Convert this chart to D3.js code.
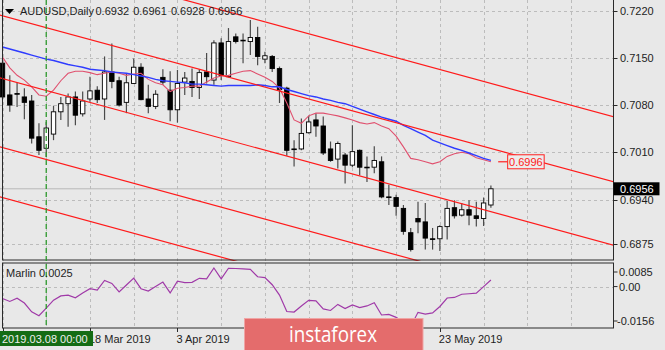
<!DOCTYPE html>
<html><head><meta charset="utf-8">
<script src="https://cdn.jsdelivr.net/npm/d3@7"></script>
<style>html,body{margin:0;padding:0;background:#e8e8e8;}svg{display:block}</style>
</head><body><svg id="c" width="665" height="350"></svg>
<script>
const dates = ["2019.02.28","2019.03.01","2019.03.04","2019.03.05","2019.03.06","2019.03.07","2019.03.08",
"2019.03.11","2019.03.12","2019.03.13","2019.03.14","2019.03.15","2019.03.18","2019.03.19","2019.03.20","2019.03.21","2019.03.22",
"2019.03.25","2019.03.26","2019.03.27","2019.03.28","2019.03.29","2019.04.01","2019.04.02","2019.04.03","2019.04.04","2019.04.05",
"2019.04.08","2019.04.09","2019.04.10","2019.04.11","2019.04.12","2019.04.15","2019.04.16","2019.04.17","2019.04.18","2019.04.19",
"2019.04.22","2019.04.23","2019.04.24","2019.04.25","2019.04.26","2019.04.29","2019.04.30","2019.05.01","2019.05.02","2019.05.03",
"2019.05.06","2019.05.07","2019.05.08","2019.05.09","2019.05.10","2019.05.13","2019.05.14","2019.05.15","2019.05.16","2019.05.17",
"2019.05.20","2019.05.21","2019.05.22","2019.05.23","2019.05.24","2019.05.27","2019.05.28","2019.05.29","2019.05.30","2019.05.31","2019.06.03"];
const open  = [0.7142,0.7095,0.7097,0.7092,0.7086,0.7033,0.7016,0.7037,0.7070,0.7082,0.7092,0.7067,0.7089,0.7102,0.7089,0.7129,0.7116,0.7084,0.7112,0.7136,0.7089,0.7078,0.7121,0.7102,0.7073,0.7114,0.7115,0.7106,0.7129,0.7117,0.7172,0.7122,0.7181,0.7175,0.7174,0.7180,0.7148,0.7152,0.7134,0.7105,0.7015,0.7015,0.7039,0.7058,0.7049,0.7015,0.7000,0.7006,0.6991,0.7013,0.6988,0.6988,0.6996,0.6944,0.6943,0.6927,0.6891,0.6912,0.6907,0.6882,0.6882,0.6900,0.6928,0.6917,0.6925,0.6916,0.6912,0.6932];
const high  = [0.7150,0.7124,0.7113,0.7105,0.7095,0.7053,0.7055,0.7079,0.7092,0.7097,0.7100,0.7100,0.7122,0.7108,0.7152,0.7171,0.7122,0.7127,0.7149,0.7142,0.7110,0.7102,0.7133,0.7130,0.7132,0.7129,0.7134,0.7133,0.7157,0.7176,0.7179,0.7194,0.7186,0.7186,0.7206,0.7196,0.7159,0.7154,0.7137,0.7107,0.7028,0.7060,0.7064,0.7068,0.7063,0.7026,0.7026,0.7009,0.7050,0.7014,0.7004,0.7019,0.7004,0.6962,0.6947,0.6932,0.6898,0.6937,0.6935,0.6898,0.6902,0.6938,0.6939,0.6935,0.6939,0.6937,0.6943,0.6961];
const low   = [0.7088,0.7070,0.7077,0.7059,0.7023,0.7006,0.7003,0.7028,0.7058,0.7048,0.7050,0.7063,0.7085,0.7083,0.7058,0.7105,0.7078,0.7068,0.7111,0.7087,0.7068,0.7074,0.7110,0.7056,0.7054,0.7095,0.7092,0.7089,0.7112,0.7110,0.7117,0.7121,0.7171,0.7142,0.7154,0.7139,0.7142,0.7129,0.7083,0.7005,0.6989,0.7013,0.7038,0.7033,0.7006,0.6996,0.6986,0.6964,0.6988,0.6976,0.6966,0.6979,0.6942,0.6932,0.6916,0.6888,0.6863,0.6890,0.6866,0.6866,0.6864,0.6881,0.6912,0.6915,0.6902,0.6900,0.6901,0.6928];
const close = [0.7092,0.7080,0.7096,0.7084,0.7031,0.7013,0.7046,0.7070,0.7082,0.7092,0.7065,0.7086,0.7101,0.7088,0.7129,0.7115,0.7080,0.7113,0.7136,0.7088,0.7078,0.7096,0.7114,0.7073,0.7112,0.7120,0.7106,0.7128,0.7122,0.7172,0.7124,0.7174,0.7174,0.7176,0.7180,0.7152,0.7153,0.7134,0.7103,0.7013,0.7014,0.7038,0.7055,0.7049,0.7009,0.6998,0.7023,0.6991,0.7011,0.6988,0.6987,0.6998,0.6944,0.6943,0.6930,0.6893,0.6866,0.6907,0.6883,0.6881,0.6900,0.6927,0.6916,0.6925,0.6917,0.6912,0.6935,0.6956];
const maBlue = [0.7166,0.7163,0.7160,0.7157,0.7154,0.7151,0.7148,0.7146,0.7143,0.7140,0.7138,0.7136,0.7133,0.7132,0.7131,0.7129,0.7128,0.7127,0.7125,0.7123,0.7121,0.7118,0.7116,0.7115,0.7114,0.7113,0.7111,0.7111,0.7110,0.7109,0.7108,0.7109,0.7109,0.7109,0.7109,0.7110,0.7109,0.7107,0.7107,0.7103,0.7100,0.7097,0.7094,0.7092,0.7089,0.7087,0.7084,0.7082,0.7078,0.7074,0.7070,0.7066,0.7062,0.7059,0.7056,0.7050,0.7045,0.7040,0.7035,0.7028,0.7024,0.7020,0.7016,0.7013,0.7009,0.7005,0.7001,0.6998];
const maPink = [0.7151,0.7135,0.7124,0.7117,0.7107,0.7095,0.7093,0.7102,0.7116,0.7127,0.7130,0.7130,0.7128,0.7125,0.7127,0.7129,0.7127,0.7124,0.7126,0.7127,0.7118,0.7113,0.7110,0.7100,0.7105,0.7106,0.7108,0.7108,0.7114,0.7120,0.7123,0.7124,0.7127,0.7130,0.7131,0.7126,0.7121,0.7115,0.7105,0.7083,0.7058,0.7053,0.7064,0.7068,0.7068,0.7066,0.7064,0.7061,0.7058,0.7054,0.7052,0.7054,0.7049,0.7045,0.7034,0.7018,0.7001,0.6999,0.6996,0.6993,0.6996,0.7004,0.7008,0.7010,0.7008,0.7002,0.6999,0.6996];
const marlin = [-0.0045,-0.0056,-0.0044,-0.0062,-0.0095,-0.0110,-0.0081,-0.0051,-0.0035,-0.0032,-0.0042,-0.0024,-0.0008,-0.0013,0.0023,0.0012,-0.0020,0.0006,0.0032,-0.0008,-0.0017,0.0000,0.0017,-0.0024,0.0020,0.0015,0.0016,0.0031,0.0029,0.0070,0.0029,0.0069,0.0068,0.0067,0.0065,0.0037,0.0034,0.0007,-0.0032,-0.0094,-0.0096,-0.0073,-0.0052,-0.0054,-0.0084,-0.0090,-0.0067,-0.0083,-0.0069,-0.0079,-0.0073,-0.0061,-0.0107,-0.0105,-0.0116,-0.0133,-0.0150,-0.0097,-0.0104,-0.0099,-0.0075,-0.0043,-0.0041,-0.0029,-0.0027,-0.0025,-0.0000,0.0025];
const priceTicks = [0.7220,0.7150,0.7080,0.7010,0.6940,0.6875];
const marlinTicks = [0.0085,0.00,-0.0156];
const marlinTickLabels = ["0.0085","0.00","-0.0156"];
const dateTickIndex = [0,12,24,36,48,60];
const dateTickLabels = ["","18 Mar 2019","3 Apr 2019","","","23 May 2019"];
// channel trend lines: start (bar index, price) -> end (bar index, price)
const chFromIdx = -1, chToIdx = 84;
const chFromPrice = [0.7312,0.7215,0.7122,0.7020,0.6946];
const chToPrice   = [0.7062,0.6966,0.6872,0.6770,0.6696];
const title = "AUDUSD,Daily";
const lastOHLC = "0.6932 0.6961 0.6928 0.6956";
const bidPrice = 0.6956;
const maLabelPrice = 0.6996;
const cursorIndex = 6;
const cursorLabel = "2019.03.08 00:00";
const marlinTitle = "Marlin 0.0025";

const svg = d3.select("#c");
const FONT = "'Liberation Sans', Arial, sans-serif";
const bg = "#e8e8e8";
svg.append("rect").attr("width",665).attr("height",350).attr("fill",bg);

const left = 2.5, right = 613.5, mainTop = 0, mainBot = 261, indTop = 263, indBot = 328;
const x = d3.scaleLinear().domain([0, dates.length-1]).range([2.5, 490.9]);
const y = d3.scaleLinear().domain([0.6875, 0.7220]).range([243.5, 10.5]);
const ym = d3.scaleLinear().domain([-0.0156, 0.0085]).range([328, 264]);

const defs = svg.append("defs");
defs.append("clipPath").attr("id","cm").append("rect").attr("x",0).attr("y",mainTop).attr("width",right).attr("height",mainBot-mainTop);
defs.append("clipPath").attr("id","ci").append("rect").attr("x",0).attr("y",indTop).attr("width",right).attr("height",indBot-indTop);

const gridColor = "#bcbcbc";
const gm = svg.append("g").attr("clip-path","url(#cm)");
const gi = svg.append("g").attr("clip-path","url(#ci)");

// vertical grid
const gridIdx = d3.range(0, 84, 6);
[ [gm, mainTop, mainBot], [gi, indTop, indBot] ].forEach(([g,t,b]) => {
  g.selectAll(null).data(gridIdx).enter().append("line")
    .attr("x1", d => Math.round(x(d))+0.5).attr("x2", d => Math.round(x(d))+0.5)
    .attr("y1", t).attr("y2", b)
    .attr("stroke", gridColor).attr("stroke-dasharray","3,3");
});
// horizontal grid (price)
gm.selectAll(null).data(priceTicks).enter().append("line")
  .attr("x1",0).attr("x2",right).attr("y1",d=>Math.round(y(d))+0.5).attr("y2",d=>Math.round(y(d))+0.5)
  .attr("stroke",gridColor).attr("stroke-dasharray","3,3");
gi.append("line").attr("x1",0).attr("x2",right).attr("y1",Math.round(ym(0))+0.5).attr("y2",Math.round(ym(0))+0.5)
  .attr("stroke",gridColor).attr("stroke-dasharray","3,3");

// bid line
gm.append("line").attr("x1",0).attr("x2",right).attr("y1",y(bidPrice)).attr("y2",y(bidPrice))
  .attr("stroke","#b8b8b8").attr("stroke-width",1);

// candles
const idx = d3.range(dates.length);
const cg = gm.append("g");
cg.selectAll(null).data(idx).enter().append("line")
  .attr("x1",i=>x(i)).attr("x2",i=>x(i)).attr("y1",i=>y(high[i])).attr("y2",i=>y(low[i]))
  .attr("stroke","#4a4a4a").attr("stroke-width",1.2);
cg.selectAll(null).data(idx).enter().append("rect")
  .attr("x",i=>x(i)-2.2).attr("width",4.4)
  .attr("y",i=>y(Math.max(open[i],close[i])))
  .attr("height",i=>Math.max(0.6, Math.abs(y(open[i])-y(close[i]))))
  .attr("fill",i=>close[i]>=open[i] ? "#ffffff" : "#000000")
  .attr("stroke","#000").attr("stroke-width",0.9);

// moving averages
const lineMain = d3.line().x((d,i)=>x(i)).y(d=>y(d));
gm.append("path").attr("d",lineMain(maPink)).attr("fill","none").attr("stroke","#e0506e").attr("stroke-width",1.1);
gm.append("path").attr("d",lineMain(maBlue)).attr("fill","none").attr("stroke","#2f3cff").attr("stroke-width",1.4);

// channel lines
gm.selectAll(null).data(chFromPrice).enter().append("line")
  .attr("x1",x(chFromIdx)).attr("x2",x(chToIdx))
  .attr("y1",d=>y(d)).attr("y2",(d,k)=>y(chToPrice[k]))
  .attr("stroke","#ff1a1a").attr("stroke-width",1.2);

// MA value label
const ly = y(maLabelPrice);
svg.append("line").attr("x1",x(68)).attr("x2",x(69.3)).attr("y1",ly).attr("y2",ly).attr("stroke","#ff2020").attr("stroke-width",1.2);
svg.append("rect").attr("x",x(69.3)).attr("y",ly-7).attr("width",36.5).attr("height",14)
  .attr("fill","#ececec").attr("stroke","#ff2020").attr("stroke-width",1);
svg.append("text").attr("x",x(69.3)+18.2).attr("y",ly+4).attr("text-anchor","middle")
  .attr("font-family",FONT).attr("font-size",11).attr("fill","#ff2020").text(d3.format(".4f")(maLabelPrice));

// marlin line
const lineInd = d3.line().x((d,i)=>x(i)).y(d=>ym(d));
gi.append("path").attr("d",lineInd(marlin)).attr("fill","none").attr("stroke","#a03aa8").attr("stroke-width",1.2);

// frames
svg.append("rect").attr("x",left).attr("y",-1).attr("width",right-left).attr("height",mainBot)
  .attr("fill","none").attr("stroke","#2a2a2a").attr("stroke-width",1);
svg.append("rect").attr("x",left).attr("y",indTop).attr("width",right-left).attr("height",indBot-indTop)
  .attr("fill","none").attr("stroke","#2a2a2a").attr("stroke-width",1);

// cursor (green dashed)
svg.append("line").attr("x1",x(cursorIndex)).attr("x2",x(cursorIndex)).attr("y1",0).attr("y2",indBot)
  .attr("stroke","#2f9a2f").attr("stroke-width",1.3).attr("stroke-dasharray","5,3");

// price axis
const pa = svg.append("g");
pa.selectAll(null).data(priceTicks).enter().append("line")
  .attr("x1",right).attr("x2",right+4).attr("y1",d=>Math.round(y(d))+0.5).attr("y2",d=>Math.round(y(d))+0.5).attr("stroke","#2a2a2a");
pa.selectAll(null).data(priceTicks).enter().append("text")
  .attr("x",620).attr("y",d=>y(d)+4).attr("font-family",FONT).attr("font-size",11).attr("fill","#1e1e1e")
  .text(d=>d3.format(".4f")(d));
// bid box
svg.append("rect").attr("x",right).attr("y",y(bidPrice)-6.5).attr("width",46).attr("height",13).attr("fill","#000");
svg.append("text").attr("x",620).attr("y",y(bidPrice)+4).attr("font-family",FONT).attr("font-size",11).attr("fill","#fff")
  .text(d3.format(".4f")(bidPrice));

// marlin axis
const mY = v => Math.min(Math.max(ym(v), indTop+9), indBot-7);
svg.selectAll(null).data(marlinTicks).enter().append("line")
  .attr("x1",right).attr("x2",right+4).attr("y1",d=>mY(d)).attr("y2",d=>mY(d)).attr("stroke","#2a2a2a");
svg.selectAll(null).data(marlinTicks).enter().append("text")
  .attr("x",(d,k)=> d<0 ? 617 : 619).attr("y",d=>mY(d)+4).attr("font-family",FONT).attr("font-size",11).attr("fill","#1e1e1e")
  .text((d,k)=>marlinTickLabels[k]);

// time axis
svg.selectAll(null).data(dateTickIndex).enter().append("line")
  .attr("x1",d=>Math.round(x(d))+0.5).attr("x2",d=>Math.round(x(d))+0.5).attr("y1",indBot).attr("y2",indBot+4).attr("stroke","#2a2a2a");
svg.selectAll(null).data(dateTickIndex.filter((d,k)=>dateTickLabels[k])).enter().append("text")
  .attr("x",d=>x(d)-1).attr("y",342.5).attr("font-family",FONT).attr("font-size",11).attr("fill","#1e1e1e")
  .text(d=>dateTickLabels[dateTickIndex.indexOf(d)]);

// cursor date label (covers the start of the first date label)
svg.append("rect").attr("x",0).attr("y",331).attr("width",93).attr("height",15).attr("fill","#146c14");
svg.append("text").attr("x",2).attr("y",342.5).attr("font-family",FONT).attr("font-size",11).attr("fill","#f0f0f0").text(cursorLabel);

// titles
svg.append("path").attr("d","M5,9 L14,9 L9.5,14 Z").attr("fill","#000");
svg.append("text").attr("x",20).attr("y",15).attr("font-family",FONT).attr("font-size",11).attr("fill","#1e1e1e").text(title);
svg.append("text").attr("x",95.5).attr("y",15).attr("font-family",FONT).attr("font-size",11).attr("fill","#1e1e1e").attr("word-spacing",1).text(lastOHLC);
svg.append("text").attr("x",6).attr("y",277).attr("font-family",FONT).attr("font-size",11).attr("fill","#1e1e1e").text(marlinTitle);

// logo
svg.append("rect").attr("x",244.5).attr("y",318.5).attr("width",178.5).attr("height",33)
  .attr("fill","#e46c6c").attr("stroke","#f0a4a4").attr("stroke-width",1);
svg.append("text").attr("x",333).attr("y",341.5).attr("text-anchor","middle")
  .attr("font-family","'Open Sans', Roboto, sans-serif").attr("font-size",21).attr("fill","#ffffff")
  .attr("textLength",88).attr("lengthAdjust","spacingAndGlyphs").text("instaforex");
</script></body></html>
